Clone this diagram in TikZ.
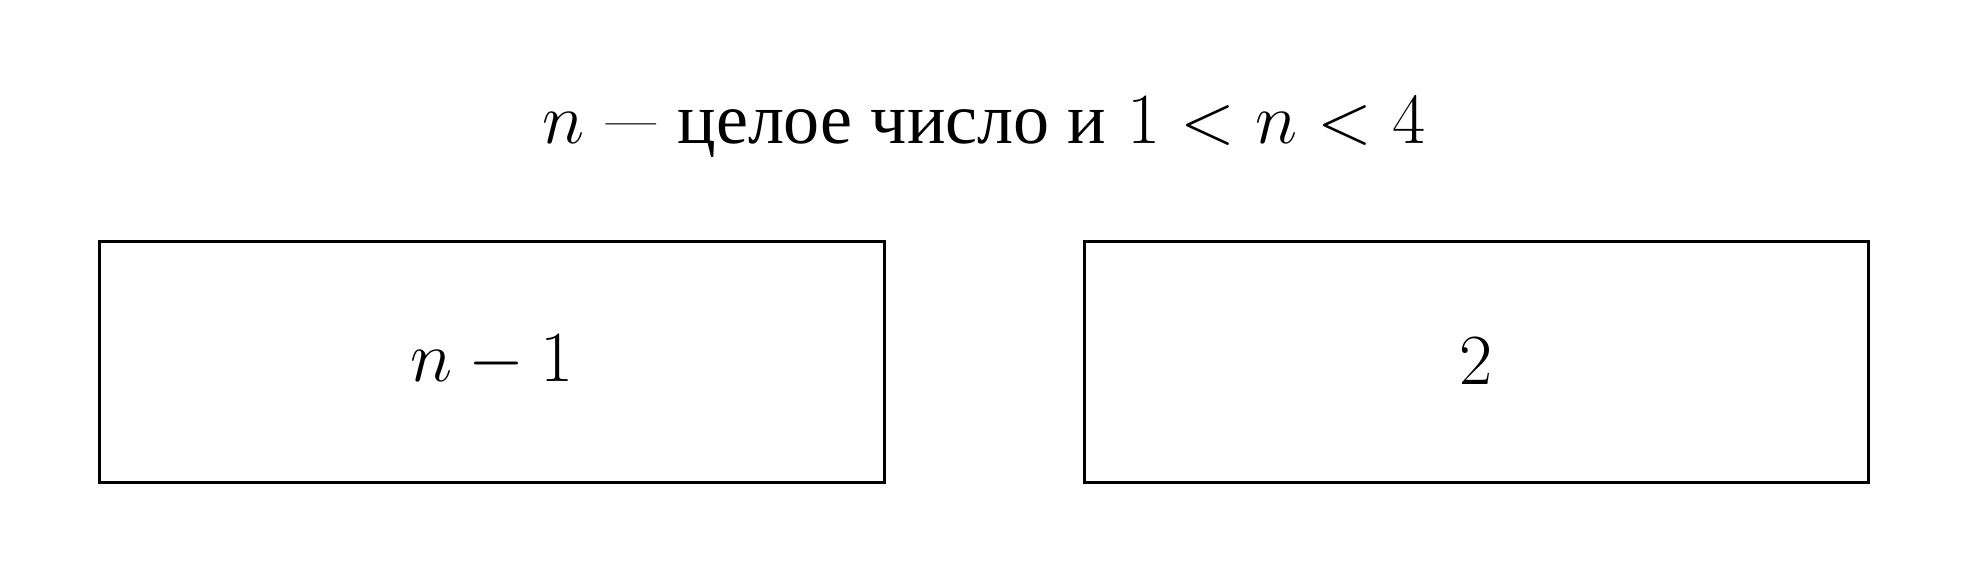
\RequirePackage{fix-cm}
\documentclass[tikz,border=0pt]{standalone}
\usepackage{fontspec}
\usepackage{graphicx}
\newfontfamily\cyrfont{Liberation Serif}
\begin{document}
\begin{tikzpicture}[x=0.3pt,y=-0.3pt,
  box/.style={draw,line width=0.9pt,minimum width=235.35pt,minimum height=72.15pt,inner sep=0pt},
  lbl/.style={font=\fontsize{21.6}{26}\selectfont}]
\useasboundingbox (0,0) rectangle (1969,583);
\node[box,lbl] (left) at (491.75,361.75) {$n-1$};
\node[box,lbl] (right) at (1476.25,361.75) {$2$};
\node[lbl,anchor=base,inner sep=0pt] (title) at (984,143) {$n$ \scalebox{0.75}[1]{—} {\cyrfont целое число и} $1<n<4$};
\end{tikzpicture}
\end{document}
